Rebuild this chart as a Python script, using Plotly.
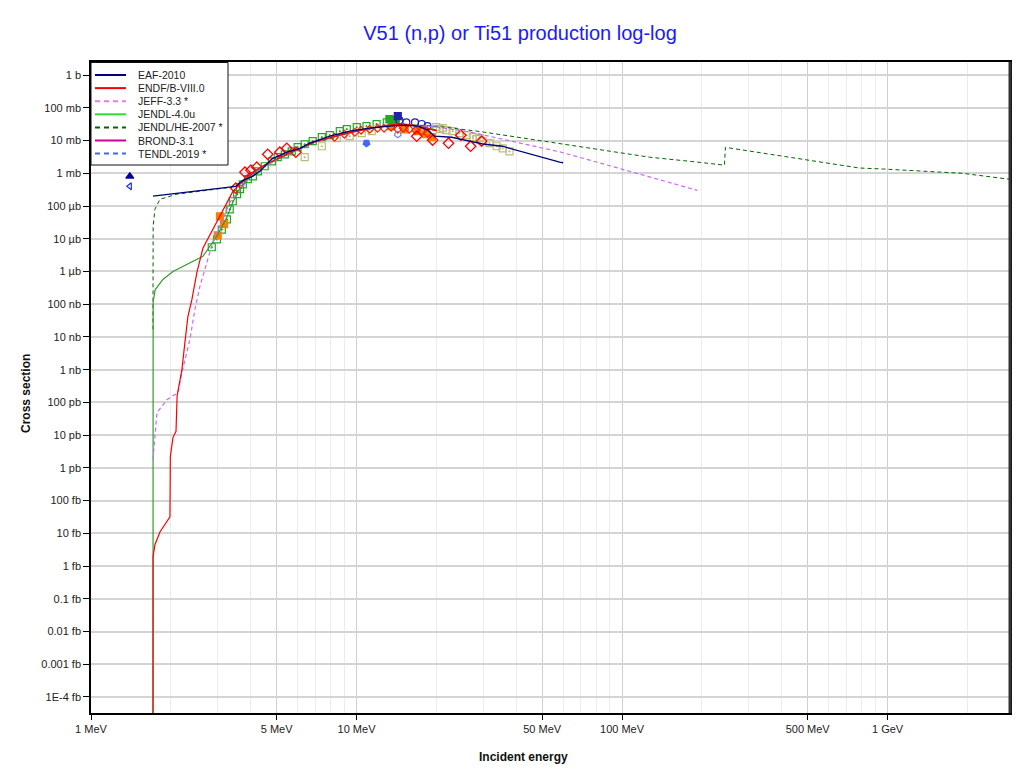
import plotly.graph_objects as go

# ---------------- evaluated libraries (energy in MeV, cross section in barns) ----------------
eaf_E = [1.712, 3.51, 3.73, 4.0, 4.33, 4.79, 5.46, 6.12, 6.66, 7.93, 9.43, 11.2, 13.3, 15.05, 17.0, 18.5, 19.7, 22.8, 30.4, 35.4, 58.2, 60.0]
eaf_S = [2.0e-4, 4.0e-4, 6.1e-4, 7.6e-4, 1.15e-3, 2.7e-3, 4.4e-3, 5.8e-3, 8.3e-3, 1.36e-2, 1.93e-2, 2.39e-2, 2.75e-2, 2.95e-2, 2.75e-2, 2.1e-2, 1.36e-2, 1.26e-2, 7.7e-3, 6.7e-3, 2.2e-3, 2.1e-3]

endf_E = [1.712, 1.713, 1.741, 1.818, 1.983, 1.990, 2.035, 2.09, 2.11, 2.2, 2.258, 2.317, 2.399, 2.505, 2.639, 2.877, 3.138, 3.422, 3.636,
          4.0, 4.5, 5.0, 6.0, 7.0, 8.0, 9.0, 10.0, 12.0, 14.0, 15.0, 16.0, 18.0, 20.0]
endf_S = [1e-20, 1.9e-15, 4.5e-15, 1.1e-14, 3.2e-14, 2.2e-12, 8.4e-12, 1.3e-11, 1.6e-10, 1.0e-9, 6.8e-9, 4.2e-8, 1.4e-7, 9.4e-7, 5.1e-6, 1.9e-5, 7.9e-5, 2.8e-4, 4.6e-4,
          1.0e-3, 1.8e-3, 2.7e-3, 5.4e-3, 9.2e-3, 1.25e-2, 1.6e-2, 1.95e-2, 2.6e-2, 3.1e-2, 3.15e-2, 3.0e-2, 2.5e-2, 2.0e-2]

jeff_E = [1.712, 1.772, 1.932, 2.125, 2.2, 2.358, 2.462, 2.571, 2.732, 2.877, 3.057, 3.334, 3.731,
          4.0, 4.5, 5.0, 6.0, 7.0, 8.0, 9.0, 10.0, 12.0, 14.0, 15.0, 16.0, 18.0, 20.0, 27.0, 45.0, 59.0, 98.0, 192.0]
jeff_S = [1.8e-12, 4.9e-11, 1.2e-10, 2.0e-10, 8.2e-10, 8.4e-9, 6.9e-8, 3.5e-7, 1.9e-6, 7.8e-6, 2.4e-5, 1.3e-4, 4.0e-4,
          8.0e-4, 1.6e-3, 2.6e-3, 5.2e-3, 9.0e-3, 1.22e-2, 1.58e-2, 1.92e-2, 2.55e-2, 3.0e-2, 3.05e-2, 2.95e-2, 2.8e-2, 2.6e-2, 1.8e-2, 7.0e-3, 4.4e-3, 1.4e-3, 3.0e-4]

jendl4_E = [1.712, 1.714, 1.745, 1.866, 2.035, 2.297, 2.639, 2.804, 2.979, 3.249, 3.42, 3.64,
            4.0, 4.5, 5.0, 6.0, 7.0, 8.0, 9.0, 10.0, 12.0, 14.0, 15.0, 16.0, 18.0, 20.0]
jendl4_S = [1e-20, 1.2e-7, 2.8e-7, 5.7e-7, 1.0e-6, 1.65e-6, 2.9e-6, 5.9e-6, 1.2e-5, 4.5e-5, 1.3e-4, 3.3e-4,
            8.5e-4, 1.7e-3, 2.6e-3, 5.3e-3, 9.1e-3, 1.24e-2, 1.6e-2, 1.95e-2, 2.6e-2, 3.1e-2, 3.2e-2, 3.05e-2, 2.6e-2, 2.1e-2]

jendlhe_E = [1.712, 1.714, 1.741, 1.818, 1.949, 2.107, 3.33, 3.73,
             4.0, 4.5, 5.0, 6.0, 7.0, 8.0, 9.0, 10.0, 12.0, 14.0, 15.0, 16.0, 18.0, 20.0,
             29.0, 45.0, 69.0, 98.0, 127.0, 192.0, 243.0, 245.0, 486.0, 782.0, 963.0, 1909.0, 2868.0]
jendlhe_S = [1.7e-8, 2.4e-5, 8.0e-5, 1.6e-4, 1.9e-4, 2.3e-4, 3.7e-4, 5.6e-4,
             8.2e-4, 1.7e-3, 2.65e-3, 5.3e-3, 9.0e-3, 1.23e-2, 1.6e-2, 1.95e-2, 2.6e-2, 3.05e-2, 3.1e-2, 3.0e-2, 2.85e-2, 2.75e-2,
             1.9e-2, 1.1e-2, 6.7e-3, 4.4e-3, 3.1e-3, 2.2e-3, 1.77e-3, 6.2e-3, 2.7e-3, 1.45e-3, 1.35e-3, 1.0e-3, 6.6e-4]

brond_E = [3.7, 4.0, 4.5, 5.0, 6.0, 7.0, 8.0, 9.0, 10.0, 12.0, 14.0, 15.0, 16.0, 18.0, 20.0]
brond_S = [5.0e-4, 9.0e-4, 1.75e-3, 2.7e-3, 5.4e-3, 9.1e-3, 1.24e-2, 1.6e-2, 1.95e-2, 2.6e-2, 3.1e-2, 3.15e-2, 3.0e-2, 2.5e-2, 2.0e-2]

tendl_E = [3.7, 4.0, 4.5, 5.0, 6.0, 7.0, 8.0, 9.0, 10.0, 12.0, 14.0, 15.0, 16.0, 18.0, 20.0]
tendl_S = [4.5e-4, 8.0e-4, 1.6e-3, 2.6e-3, 5.2e-3, 9.0e-3, 1.22e-2, 1.58e-2, 1.92e-2, 2.55e-2, 3.0e-2, 3.05e-2, 2.95e-2, 2.8e-2, 2.6e-2]

# ---------------- experimental data ----------------
diam_E = [3.51, 3.80, 4.0, 4.21, 4.63, 5.14, 5.46, 5.91, 16.85, 19.35, 22.2, 24.7, 26.9, 29.6]
diam_S = [3.5e-4, 1.08e-3, 1.24e-3, 1.53e-3, 3.8e-3, 4.4e-3, 5.8e-3, 4.4e-3, 1.36e-2, 1.03e-2, 8.3e-3, 1.46e-2, 6.7e-3, 9.6e-3]

smallred_E = [8.27, 9.0, 9.86, 10.4, 11.2, 12.0, 12.7, 13.5, 14.3, 15.0, 15.8, 16.7, 17.6, 18.5]
smallred_S = [1.27e-2, 1.56e-2, 1.8e-2, 2.07e-2, 2.22e-2, 2.39e-2, 2.39e-2, 2.57e-2, 2.22e-2, 2.39e-2, 2.22e-2, 2.07e-2, 1.93e-2, 1.68e-2]

gsq_E = [2.85, 2.98, 3.11, 3.25, 3.33, 3.42, 3.55, 3.64, 3.73, 3.90, 4.07, 4.25, 4.51, 4.80, 5.05, 5.37, 5.70, 6.0, 6.38,
         6.84, 7.40, 7.93, 8.65, 9.19, 10.02, 10.9, 11.9, 13.0]
gsq_S = [5.5e-6, 9.6e-6, 1.9e-5, 3.9e-5, 7.9e-5, 1.4e-4, 2.3e-4, 3.3e-4, 4.6e-4, 6.6e-4, 8.1e-4, 1.15e-3, 1.64e-3, 2.3e-3, 3.1e-3, 3.8e-3, 4.7e-3, 6.3e-3, 7.7e-3,
         9.6e-3, 1.27e-2, 1.46e-2, 1.93e-2, 2.22e-2, 2.57e-2, 2.75e-2, 3.17e-2, 3.6e-2]

gfill_E = [13.3, 14.05, 13.7]
gfill_S = [4.5e-2, 4.2e-2, 3.9e-2]

orange_E = [3.06, 3.17, 3.0, 13.5, 15.2, 17.0, 18.3, 19.2]
orange_S = [4.8e-5, 2.8e-5, 1.27e-5, 2.75e-2, 2.2e-2, 1.93e-2, 1.56e-2, 1.27e-2]

olive_E = [6.38, 7.40, 8.42, 9.43, 10.46, 11.41, 19.97, 20.6, 21.1, 21.8, 23.0, 24.4, 26.0, 27.4, 28.3, 29.1, 29.8, 31.7, 33.7, 35.5, 37.7]
olive_S = [3.1e-3, 6.7e-3, 1.18e-2, 1.36e-2, 1.68e-2, 1.93e-2, 2.57e-2, 2.22e-2, 2.39e-2, 2.07e-2, 1.93e-2, 1.68e-2, 1.46e-2, 1.27e-2, 1.1e-2, 1.18e-2, 9.6e-3, 8.3e-3, 6.7e-3, 5.8e-3, 4.7e-3]

circ_E = [14.5, 15.4, 16.6, 17.6, 18.5]
circ_S = [4.2e-2, 3.6e-2, 3.6e-2, 3.2e-2, 2.75e-2]

tri_up_E, tri_up_S = [1.40], [8.1e-4]
tri_left_E, tri_left_S = [1.40], [4.0e-4]
shield_E, shield_S = [10.9], [8.3e-3]
shield_open_E, shield_open_S = [14.3], [1.57e-2]
bsq_E, bsq_S = [14.3], [5.6e-2]

# ---------------- axis ticks ----------------
x_tickvals = [1, 5, 10, 50, 100, 500, 1000]
x_ticktext = ["1 MeV", "5 MeV", "10 MeV", "50 MeV", "100 MeV", "500 MeV", "1 GeV"]
x_minor = [2, 3, 4, 6, 7, 8, 9, 20, 30, 40, 60, 70, 80, 90, 200, 300, 400, 600, 700, 800, 900, 2000]
y_ticktext = ["1 b", "100 mb", "10 mb", "1 mb", "100 µb", "10 µb", "1 µb", "100 nb", "10 nb", "1 nb",
              "100 pb", "10 pb", "1 pb", "100 fb", "10 fb", "1 fb", "0.1 fb", "0.01 fb", "0.001 fb", "1E-4 fb"]
y_tickvals = [10.0 ** (-i) for i in range(len(y_ticktext))]

FONT = "Liberation Sans, Arial, sans-serif"
# page has an 8px body margin: figure sized to fit the 1020x773 window
W, H = 1004, 757
L, R, T, B = 83, 2, 54, 52
PW, PH = W - L - R, H - T - B

fig = go.Figure()

def mk(E, S, symbol, color, size, name, lw=1.2, angle=0):
    fig.add_trace(go.Scatter(x=E, y=S, mode="markers", showlegend=False, name=name,
                             marker=dict(symbol=symbol, color=color, size=size, angle=angle,
                                         line=dict(color=color, width=lw))))

# markers
mk(olive_E, olive_S, "square-open-dot", "#bdbd7a", 7, "olive")
mk(gsq_E, gsq_S, "square-open-dot", "#22aa22", 7, "green sq")
mk(orange_E, orange_S, "square", "#ff7f00", 7, "orange")
mk(smallred_E, smallred_S, "diamond-open", "#ff2000", 6, "red small")
mk(diam_E, diam_S, "diamond-open", "#ff0000", 8, "red diamonds", lw=1.3)
mk(gfill_E, gfill_S, "square", "#22aa22", 7, "green fill")
mk(circ_E, circ_S, "circle-open", "#2020b0", 7, "circles")
mk(tri_up_E, tri_up_S, "triangle-up", "#0000a0", 7, "tri up")
mk(tri_left_E, tri_left_S, "triangle-left-open", "#2030c0", 6, "tri left")
mk(shield_E, shield_S, "pentagon", "#4466ff", 7, "shield", angle=180)
mk(shield_open_E, shield_open_S, "pentagon-open", "#6688ff", 7, "shield open", angle=180)
mk(bsq_E, bsq_S, "square", "#2222aa", 7, "blue sq")

# name, E, S, colour, dash, width, legend colour
libs = [
    ("TENDL-2019 *", tendl_E, tendl_S, "#3366ff", "4px,3px", 1, "#4169e1"),
    ("BROND-3.1", brond_E, brond_S, "#cc0099", "solid", 1, "#cc0099"),
    ("JENDL/HE-2007 *", jendlhe_E, jendlhe_S, "#006600", "4px,3px", 1, "#006600"),
    ("JENDL-4.0u", jendl4_E, jendl4_S, "#2e9e2e", "solid", 1.2, "#33dd33"),
    ("JEFF-3.3 *", jeff_E, jeff_S, "#cc66ff", "4px,3px", 1.2, "#ee77ee"),
    ("ENDF/B-VIII.0", endf_E, endf_S, "#ff0000", "solid", 1.2, "#ff0000"),
    ("EAF-2010", eaf_E, eaf_S, "#000080", "solid", 1.3, "#000080"),
]
for name, E, S, col, dash, w, lc in libs:
    fig.add_trace(go.Scatter(x=E, y=S, mode="lines", name=name, showlegend=False,
                             line=dict(color=col, width=w, dash=dash)))

# custom compact legend (box + sample lines + labels), in paper coordinates
def px_x(x):
    return (x - 91) / PW
def px_y(y):
    return 1 - (y - 62) / PH

fig.add_shape(type="rect", xref="paper", yref="paper", x0=px_x(91), x1=px_x(228), y0=px_y(165), y1=px_y(62.5),
              fillcolor="white", line=dict(color="#111", width=1), layer="above")
legend_order = ["EAF-2010", "ENDF/B-VIII.0", "JEFF-3.3 *", "JENDL-4.0u", "JENDL/HE-2007 *", "BROND-3.1", "TENDL-2019 *"]
style = {n: (lc, dash) for n, E, S, c, dash, w, lc in libs}
for i, name in enumerate(legend_order):
    yy = 75 + i * 13.1
    lc, dash = style[name]
    fig.add_shape(type="line", xref="paper", yref="paper", x0=px_x(95), x1=px_x(126), y0=px_y(yy), y1=px_y(yy),
                  line=dict(color=lc, width=2, dash=("5px,4px" if dash != "solid" else "solid")), layer="above")
    fig.add_annotation(text=name, xref="paper", yref="paper", x=px_x(136), y=px_y(yy), xanchor="left",
                       yanchor="middle", showarrow=False, font=dict(family=FONT, size=10.5, color="#222"))

fig.update_layout(
    width=W, height=H,
    margin=dict(l=L, r=R, t=T, b=B, autoexpand=False),
    paper_bgcolor="white", plot_bgcolor="white",
    font=dict(family=FONT, size=11, color="#222"),
    title=dict(text="V51 (n,p) or Ti51 production log-log", x=512 / W, xref="container",
               y=1 - 25 / H, yanchor="middle", xanchor="center",
               font=dict(family=FONT, size=20, color="#1a1aff")),
    showlegend=False,
)
fig.update_xaxes(type="log", range=[0, 3.461], tickvals=x_tickvals, ticktext=x_ticktext,
                 showgrid=True, gridcolor="#cfcfcf", gridwidth=1,
                 minor=dict(tickvals=x_minor, showgrid=True, gridcolor="#ececec", ticks=""),
                 showline=True, linecolor="#000", linewidth=1.5, mirror=True,
                 ticks="outside", ticklen=5, tickcolor="#000", zeroline=False, automargin=False,
                 tickfont=dict(family=FONT, size=11, color="#222"))
fig.update_yaxes(type="log", range=[-19.49, 0.4], tickvals=y_tickvals, ticktext=y_ticktext,
                 showgrid=True, gridcolor="#d4d4d4", gridwidth=1.5,
                 showline=True, linecolor="#000", linewidth=1.5, mirror="ticks",
                 ticks="outside", ticklen=6, tickcolor="#000", zeroline=False, automargin=False,
                 tickfont=dict(family=FONT, size=11, color="#222"))

fig.add_annotation(text="<b>Cross section</b>", xref="paper", yref="paper", x=-74 / PW, y=0.49,
                   textangle=-90, showarrow=False, font=dict(family=FONT, size=12, color="#111"))
fig.add_annotation(text="<b>Incident energy</b>", xref="paper", yref="paper", x=(523 - 91) / PW, y=-44 / PH,
                   showarrow=False, yanchor="middle", font=dict(family=FONT, size=12, color="#111"))
# thicker right frame edge
fig.add_shape(type="line", xref="paper", yref="paper", x0=1, x1=1, y0=0, y1=1,
              line=dict(color="#333", width=3))

fig.write_html("out.html")
